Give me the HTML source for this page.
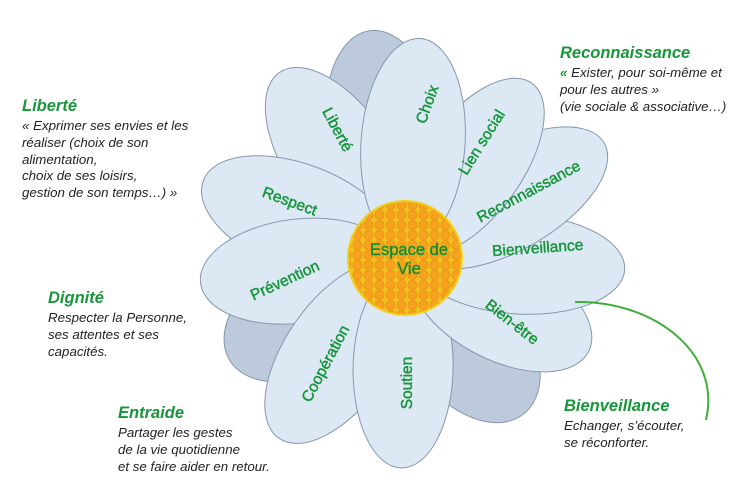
<!DOCTYPE html>
<html><head><meta charset="utf-8"><style>
body{margin:0;width:754px;height:491px;background:#fff;overflow:hidden;position:relative;font-family:"Liberation Sans",sans-serif}
.b{position:absolute;font-style:italic;font-size:13.3px;line-height:16.8px;color:#222}
.b h{display:block;font-weight:bold;color:#17963a;font-size:16.5px;line-height:20px;margin-bottom:2px}
svg{position:absolute;left:0;top:0}
</style></head><body>
<svg width="754" height="491" viewBox="0 0 754 491">
<defs>
<pattern id="hc" width="11" height="10" patternUnits="userSpaceOnUse">
<rect width="11" height="10" fill="#f0c020"/>
<circle cx="5.5" cy="5" r="4.6" fill="#f7a21e" stroke="#e88a10" stroke-width="0.6"/>
</pattern>
</defs>
<g stroke="#8797ae" stroke-width="1" fill="#bccadb">
<g transform="translate(405,258) rotate(-99)"><ellipse cx="118" cy="0" rx="112" ry="60"/></g>
<g transform="translate(405,258) rotate(150)"><ellipse cx="105" cy="0" rx="98" ry="60"/></g>
<g transform="translate(405,258) rotate(53)"><ellipse cx="100" cy="0" rx="96" ry="60"/></g>
</g>
<g stroke="#8797ae" stroke-width="1" fill="#dce8f4">
<g transform="translate(405,258) rotate(-124)"><ellipse cx="117" cy="0" rx="107" ry="53"/></g>
<g transform="translate(405,258) rotate(-159)"><ellipse cx="113" cy="0" rx="103" ry="53"/></g>
<g transform="translate(405,258) rotate(173)"><ellipse cx="108" cy="0" rx="98" ry="52"/></g>
<g transform="translate(405,258) rotate(125)"><ellipse cx="115" cy="0" rx="105" ry="53"/></g>
<g transform="translate(405,258) rotate(91)"><ellipse cx="110" cy="0" rx="100" ry="50"/></g>
<g transform="translate(405,258) rotate(27)"><ellipse cx="108" cy="0" rx="98" ry="53"/></g>
<g transform="translate(405,258) rotate(3)"><ellipse cx="115" cy="0" rx="105" ry="50"/></g>
<g transform="translate(405,258) rotate(-30)"><ellipse cx="120" cy="0" rx="110" ry="52"/></g>
<g transform="translate(405,258) rotate(-54)"><ellipse cx="113" cy="0" rx="103" ry="50"/></g>
<g transform="translate(405,258) rotate(-86)"><ellipse cx="115" cy="0" rx="105" ry="52"/></g>
</g>
<circle cx="405" cy="258" r="57" fill="url(#hc)" stroke="#f0d020" stroke-width="2"/>
<path d="M575 302 C650 300 722 350 706 420" fill="none" stroke="#3fae3a" stroke-width="2"/>
<g fill="#17963a" stroke="#17963a" stroke-width="0.45" font-size="15.5" text-anchor="middle" font-family="Liberation Sans,sans-serif">
<text transform="translate(333,132) rotate(62)">Liberté</text>
<text transform="translate(432,106) rotate(-70)">Choix</text>
<text transform="translate(486,145) rotate(-58)">Lien social</text>
<text transform="translate(531,196) rotate(-28)">Reconnaissance</text>
<text transform="translate(538,253) rotate(-4)">Bienveillance</text>
<text transform="translate(509,326) rotate(38)">Bien-être</text>
<text transform="translate(412,383) rotate(-90)">Soutien</text>
<text transform="translate(330,366) rotate(-62)">Coopération</text>
<text transform="translate(287,285) rotate(-25)">Prévention</text>
<text transform="translate(288,206) rotate(20)">Respect</text>
<text x="409" y="255" font-size="16.5" fill="#138a30">Espace de</text>
<text x="409" y="274" font-size="16.5" fill="#138a30">Vie</text>
</g>
</svg>
<div class="b" style="left:22px;top:96px"><h>Liberté</h>« Exprimer ses envies et les<br>réaliser (choix de son<br>alimentation,<br>choix de ses loisirs,<br>gestion de son temps…) »</div>
<div class="b" style="left:560px;top:43px"><h>Reconnaissance</h><b style="color:#17963a">«</b> Exister, pour soi-même et<br>pour les autres »<br>(vie sociale &amp; associative…)</div>
<div class="b" style="left:48px;top:288px"><h>Dignité</h>Respecter la Personne,<br>ses attentes et ses<br>capacités.</div>
<div class="b" style="left:118px;top:403px"><h>Entraide</h>Partager les gestes<br>de la vie quotidienne<br>et se faire aider en retour.</div>
<div class="b" style="left:564px;top:396px"><h>Bienveillance</h>Echanger, s’écouter,<br>se réconforter.</div>
</body></html>
